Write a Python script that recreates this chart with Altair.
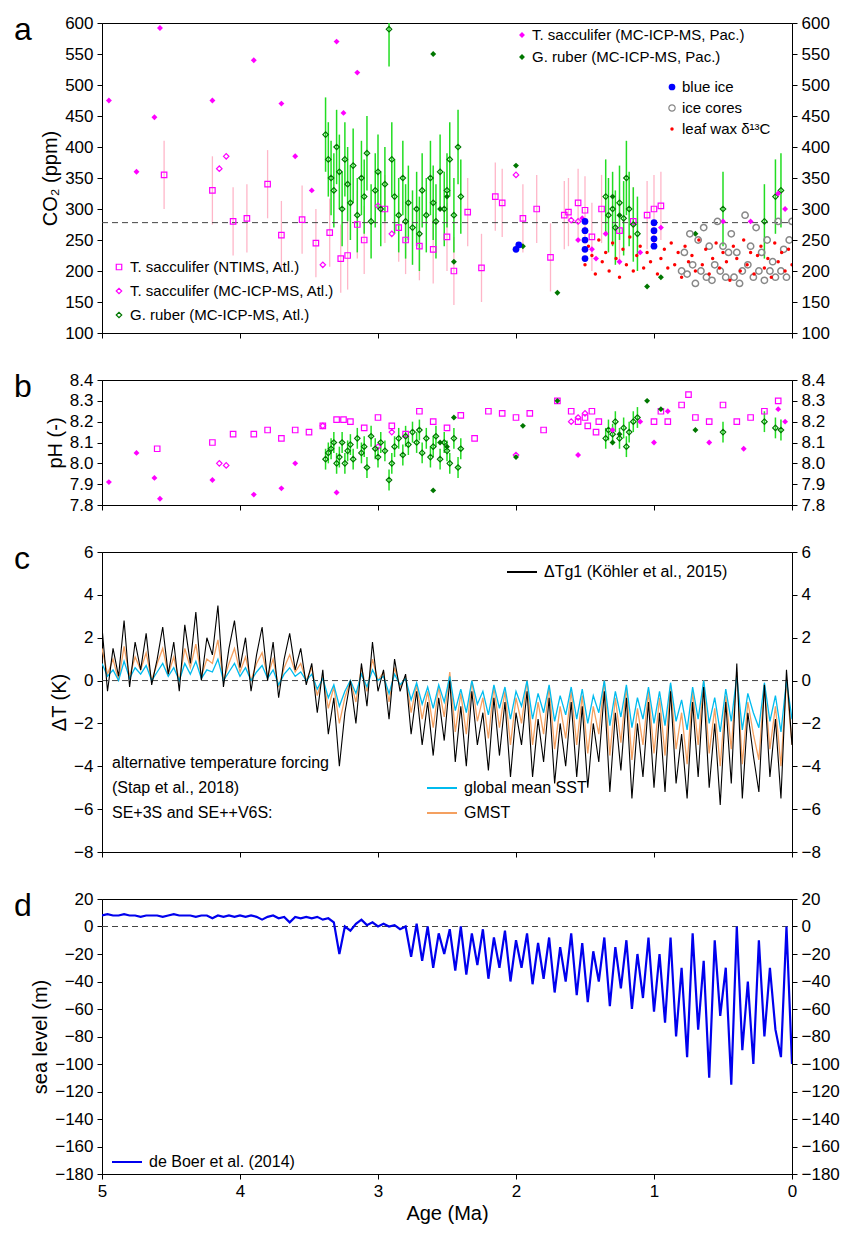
import altair as alt
import pandas as pd

FONT = "Liberation Sans"
W = 690

# ---------------- data: panel a (CO2) ----------------
ntims_age = [4.55, 4.2, 4.05, 3.95, 3.8, 3.7, 3.55, 3.45, 3.35, 3.27, 3.22, 3.15, 3.1, 2.95, 2.85, 2.8, 2.7, 2.6,
             2.5, 2.45, 2.35, 2.25, 2.15, 2.1, 1.95, 1.85, 1.75, 1.65, 1.62, 1.55, 1.5, 1.45, 1.38, 1.25, 1.15,
             1.05, 1.0, 0.95]
ntims_co2 = [355, 330, 280, 285, 340, 258, 283, 245, 262, 220, 225, 275, 250, 300, 270, 250, 240, 235,
             255, 200, 295, 205, 320, 310, 285, 300, 222, 290, 295, 310, 298, 255, 300, 265, 280,
             290, 300, 305]
atl_mc_age = [4.15, 4.1, 3.4, 3.0, 2.9, 2.0, 1.6, 1.55, 1.5]
atl_mc_co2 = [365, 385, 210, 305, 260, 355, 282, 280, 265]
pac_ts_age = [4.95, 4.75, 4.62, 4.58, 4.2, 3.9, 3.7, 3.6, 3.48, 3.3, 3.25, 3.15, 1.55, 1.52, 1.45, 1.42, 1.35,
              1.25, 1.1, 1.0, 0.95, 0.5, 0.3, 0.1, 0.05]
pac_ts_co2 = [475, 360, 448, 592, 475, 540, 470, 385, 330, 570, 455, 520, 250, 285, 235, 220, 260,
              215, 230, 250, 270, 280, 280, 325, 300]
gr_atl_age = [3.38, 3.36, 3.34, 3.32, 3.3, 3.28, 3.26, 3.24, 3.22, 3.2, 3.18, 3.15, 3.12, 3.1, 3.08, 3.05, 3.02,
              3.0, 2.98, 2.95, 2.92, 2.9, 2.88, 2.85, 2.82, 2.8, 2.78, 2.75, 2.72, 2.7, 2.68, 2.65, 2.62, 2.6,
              2.58, 2.55, 2.52, 2.5, 2.48, 2.45, 2.42, 2.4, 1.35, 1.33, 1.3, 1.28, 1.25, 1.22, 1.2, 1.18, 1.15,
              1.12, 0.5, 0.2, 0.12, 0.08]
gr_atl_co2 = [420, 380, 350, 330, 400, 360, 300, 380, 340, 310, 370, 290, 350, 320, 390, 280, 330,
              360, 300, 340, 590, 380, 320, 290, 350, 280, 310, 270, 300, 260, 330, 290, 350, 310,
              280, 360, 300, 330, 380, 290, 400, 320, 320, 290, 300, 270, 310, 285, 350, 300, 275,
              260, 300, 280, 320, 330]
gr_atl_ph = [8.02, 8.05, 8.07, 8.1, 8.0, 8.03, 8.1, 8.0, 8.06, 8.09, 8.02, 8.12, 8.05, 8.08, 7.98, 8.13, 8.07,
             8.03, 8.1, 8.06, 7.92, 8.0, 8.08, 8.12, 8.04, 8.13, 8.09, 8.15, 8.1, 8.16, 8.05, 8.12, 8.03, 8.08,
             8.13, 8.02, 8.1, 8.06, 8.0, 8.12, 7.98, 8.07, 8.12, 8.16, 8.14, 8.2, 8.12, 8.17, 8.08, 8.15, 8.2,
             8.22, 8.15, 8.2, 8.17, 8.16]
gr_pac_age = [2.6, 2.55, 2.5, 2.45, 2.0, 1.95, 1.7, 1.3, 1.25, 1.05, 0.95, 0.7]
gr_pac_co2 = [550, 300, 320, 215, 370, 240, 165, 320, 290, 175, 190, 260]
gr_pac_ph = [7.87, 8.1, 8.08, 8.22, 8.03, 8.18, 8.3, 8.1, 8.14, 8.3, 8.26, 8.16]
blue_age = [2.0, 1.98, 1.5, 1.5, 1.5, 1.5, 1.5, 1.0, 1.0, 1.0, 1.0]
blue_co2 = [235, 242, 220, 235, 250, 265, 280, 240, 252, 265, 278]
ice_co2 = [200, 230, 195, 260, 210, 180, 250, 200, 270, 190, 240, 185, 210, 280, 200, 240, 190, 230, 260, 190,
           230, 180, 200, 290, 210, 240, 190, 270, 200, 230, 185, 250, 200, 215, 190, 280, 200, 235, 190, 250, 280]
wax_co2 = [210, 240, 225, 195, 250, 215, 230, 200, 245, 220, 190, 235, 210, 255, 200, 225, 240, 205, 230, 215,
           250, 195, 220, 235, 205, 245, 210, 230, 190, 240, 215, 225, 200, 250, 210, 235, 195, 220, 245, 205,
           230, 215, 185, 240, 220, 200, 250, 210, 230, 195, 225, 240, 205, 220, 190, 245, 215, 230, 200, 235, 210]

# ---------------- data: panel b (pH) ----------------
ntims_ph_age = [4.6, 4.2, 4.05, 3.9, 3.8, 3.7, 3.6, 3.5, 3.4, 3.3, 3.25, 3.2, 3.1, 3.0, 2.9, 2.8, 2.7, 2.6, 2.5,
                2.4, 2.3, 2.2, 2.1, 2.0, 1.9, 1.8, 1.7, 1.6, 1.55, 1.5, 1.48, 1.45, 1.42, 1.4, 1.0, 0.95, 0.9,
                0.8, 0.75, 0.7, 0.6, 0.5, 0.4, 0.3, 0.2, 0.1]
ntims_ph = [8.07, 8.1, 8.14, 8.14, 8.16, 8.12, 8.16, 8.15, 8.18, 8.21, 8.21, 8.2, 8.17, 8.22, 8.18, 8.14, 8.25,
            8.2, 8.17, 8.23, 8.12, 8.25, 8.24, 8.22, 8.24, 8.16, 8.3, 8.25, 8.2, 8.22, 8.18, 8.25, 8.15, 8.2,
            8.2, 8.25, 8.2, 8.28, 8.33, 8.22, 8.2, 8.28, 8.2, 8.22, 8.25, 8.3]
pac_ph_age = [4.95, 4.75, 4.62, 4.58, 4.2, 3.9, 3.7, 3.6, 3.3, 1.55, 1.3, 1.1, 1.0, 0.9, 0.6, 0.35, 0.1, 0.05]
pac_ph = [7.91, 8.05, 7.93, 7.83, 7.92, 7.85, 7.88, 8.0, 7.86, 8.04, 8.16, 8.2, 8.1, 8.25, 8.1, 8.07, 8.26, 8.2]
atl_mc_ph = [8.0, 7.99, 8.18, 8.08, 8.15, 8.04, 8.2, 8.22, 8.24]

# ---------------- data: panels c, d (time series, 0.04 Ma steps from 5 to 0) ----------------
ages = [round(5 - 0.04 * i, 2) for i in range(126)]
dT_kohler = [2.5, -0.5, 1.5, 0.2, 2.8, -0.3, 1.8, 0.5, 2.2, -0.2, 1.0, 2.5, 0.3, 1.8, -0.5, 2.6, 0.8, 3.2, 0.0, 2.0,
             1.2, 3.5, -0.3, 1.5, 2.8, 0.6,
             2.0, -0.5, 1.2, 2.5, 0.0, 1.8, -0.8, 1.0, 2.2, 0.5, 1.5, -0.2, 0.8, -1.5, 0.5, -2.5, -0.8, -4.0, -1.5,
             0.0, -2.0, 0.8, -1.2, 1.8, -0.5,
             0.5, -1.8, 1.0, -0.5, 0.3, -2.5, -0.5, -3.0, -1.0, -3.5, -0.8, -2.8, 0.0, -3.8, -1.2, -4.0, -0.5, -3.0,
             -1.5, -4.2, -0.8, -3.5, -1.0, -4.5, -1.5,
             -3.0, -0.5, -4.5, -1.8, -3.8, -0.8, -4.8, -2.0, -4.0, -1.0, -4.5, -1.2, -5.0, -2.0, -3.8, -0.5, -5.2,
             -1.5, -4.2, -0.8, -5.5, -2.0, -4.5, -1.0, -5.0,
             -1.5, -5.2, -0.5, -4.8, -2.5, -5.5, -1.0, -4.5, -0.3, -5.0, -2.0, -5.8, -1.0, -4.8, 0.8, -5.5, -1.5,
             -3.5, -5.2, -0.2, -4.5, -1.8, -5.5, 0.5, -3.0]
dT_sst = [0.8, 0.2, 0.5, 0.0, 0.9, 0.1, 0.6, 0.3, 0.7, 0.0, 0.4, 0.8, 0.2, 0.6, 0.0, 0.8, 0.3, 0.9, 0.1, 0.5, 0.4,
          1.0, 0.0, 0.4, 0.8, 0.2,
          0.6, 0.0, 0.4, 0.7, 0.1, 0.5, -0.2, 0.3, 0.6, 0.2, 0.4, 0.0, 0.3, -0.4, 0.1, -0.8, -0.2, -1.2, -0.5, 0.0,
          -0.6, 0.3, -0.3, 0.5, 0.0,
          0.2, -0.6, 0.3, -0.2, 0.1, -0.9, -0.1, -1.1, -0.3, -1.3, -0.2, -1.0, 0.2, -1.4, -0.4, -1.5, 0.0, -1.1,
          -0.5, -1.6, -0.2, -1.3, -0.3, -1.8, -0.5,
          -1.2, 0.0, -1.8, -0.6, -1.5, -0.2, -1.9, -0.7, -1.6, -0.3, -1.8, -0.4, -2.0, -0.7, -1.5, 0.0, -2.1, -0.5,
          -1.7, -0.2, -2.2, -0.8, -1.8, -0.3, -2.0,
          -0.5, -2.1, -0.1, -1.9, -0.9, -2.3, -0.3, -1.8, 0.0, -2.0, -0.8, -2.4, -0.4, -1.9, 0.2, -2.3, -0.6, -1.5,
          -2.2, -0.1, -1.9, -0.7, -2.4, 0.0, -1.8]
dT_gmst = [1.5, 0.3, 1.0, 0.0, 1.6, 0.2, 1.1, 0.5, 1.3, 0.0, 0.8, 1.5, 0.3, 1.1, 0.0, 1.5, 0.6, 1.7, 0.2, 1.0, 0.8,
           1.9, 0.0, 0.8, 1.5, 0.4,
           1.1, 0.0, 0.8, 1.3, 0.2, 1.0, -0.3, 0.6, 1.2, 0.4, 0.8, 0.0, 0.6, -0.7, 0.2, -1.3, -0.3, -2.0, -0.8, 0.0,
           -1.0, 0.6, -0.5, 1.0, 0.0,
           0.4, -1.0, 0.6, -0.3, 0.2, -1.5, -0.2, -1.8, -0.5, -2.2, -0.3, -1.7, 0.4, -2.4, -0.6, -2.5, 0.0, -1.9,
           -0.8, -2.7, -0.3, -2.2, -0.5, -3.0, -0.8,
           -2.0, 0.0, -3.0, -1.0, -2.5, -0.3, -3.2, -1.2, -2.7, -0.5, -3.0, -0.7, -3.4, -1.2, -2.5, 0.0, -3.5, -0.8,
           -2.9, -0.3, -3.7, -1.3, -3.0, -0.5, -3.4,
           -0.8, -3.5, -0.2, -3.2, -1.5, -3.9, -0.5, -3.0, 0.0, -3.4, -1.3, -4.0, -0.7, -3.2, 0.4, -3.9, -1.0, -2.5,
           -3.7, -0.2, -3.2, -1.2, -4.0, 0.0, -3.0]
sea_level = [8, 9, 8, 8, 9, 8, 8, 7, 8, 8, 8, 7, 8, 9, 8, 8, 8, 7, 8, 8, 6, 8, 7, 8, 7, 8,
             7, 8, 7, 5, 7, 8, 6, 7, 3, 7, 6, 7, 6, 7, 5, 6, 3, -20, 0, -3, 2, 5, 1, 3, 0,
             2, 0, 1, -2, 0, -22, 2, -25, 0, -30, -5, -20, -2, -32, 0, -35, -5, -28, -2, -38, -8, -30, -3, -40, -10,
             -30, -5, -42, -12, -38, -8, -48, -15, -40, -5, -50, -12, -55, -18, -40, -8, -58, -15, -45, -10, -60,
             -20, -52, -8, -62,
             -20, -70, -8, -80, -30, -95, -5, -75, -25, -110, -10, -65, -30, -115, 0, -90, -40, -100, -10, -80,
             -30, -75, -95, 0, -100]

# ---------------- helpers ----------------
def df(a, v, err=0):
    return pd.DataFrame({"age": a, "v": v, "lo": [x - err for x in v], "hi": [x + err for x in v]})


def X(show):
    if show:
        ax = alt.Axis(values=[0, 1, 2, 3, 4, 5], title="Age (Ma)", labelOverlap=False, labelBound=False,
                      labelFlush=False)
    else:
        ax = alt.Axis(values=[0, 1, 2, 3, 4, 5], labels=False, title=None)
    return alt.X("age:Q", scale=alt.Scale(domain=[0, 5], reverse=True), axis=ax)


def panel(layers, domain, ticks, ytitle, letter, height, show_x=False, fmt=None):
    sc = alt.Scale(domain=domain, nice=False, zero=False)
    kw = {"format": fmt} if fmt else {}
    axl = alt.Axis(values=ticks, title=ytitle, orient="left", **kw)
    built = []
    for i, (d, mk, is_err) in enumerate(layers):
        f = "lo:Q" if is_err else "v:Q"
        enc = dict(x=X(show_x), y=alt.Y(f, scale=sc, axis=axl if i == 0 else None))
        if is_err:
            enc["y2"] = alt.Y2("hi:Q")
        built.append(mk(alt.Chart(d)).encode(**enc))
    right = alt.Chart(df([0], [domain[0]])).mark_point(opacity=0).encode(
        x=X(show_x), y=alt.Y("v:Q", scale=sc, axis=alt.Axis(values=ticks, title=None, orient="right", **kw)))
    lab = alt.Chart(pd.DataFrame({"t": [letter]})).mark_text(
        fontSize=32, font=FONT, align="left", baseline="top", clip=False).encode(
        text="t:N", x=alt.value(-88), y=alt.value(-8))
    return alt.layer(*built, right, lab).resolve_scale(y="independent").properties(width=W, height=height)


def rule(color, w=1.3):
    return lambda c: c.mark_rule(color=color, strokeWidth=w, clip=True)


def pts(shape, color, filled, size=30, sw=1.2):
    return lambda c: c.mark_point(shape=shape, color=color, filled=filled, size=size, strokeWidth=sw,
                                  opacity=1, clip=True)


def hline(val):
    return (df([0, 5], [val, val]), lambda c: c.mark_line(color="#444", strokeDash=[6, 4], strokeWidth=1), False)


def leg_text(rows, size=16):
    return alt.Chart(pd.DataFrame(rows, columns=["px", "py", "t"])).mark_text(
        align="left", baseline="middle", fontSize=size, font=FONT).encode(
        x=alt.X("px:Q", scale=None), y=alt.Y("py:Q", scale=None), text="t:N")


def leg_sym(px, py, shape, color, filled, size=30):
    return alt.Chart(pd.DataFrame({"px": [px], "py": [py]})).mark_point(
        shape=shape, color=color, filled=filled, size=size, opacity=1, strokeWidth=1.2).encode(
        x=alt.X("px:Q", scale=None), y=alt.Y("py:Q", scale=None))


PINK, MAG, LIME, DG = "#ffb6c8", "#ff00ff", "#22dd22", "#007700"
HA, HB, HC, HD = 310, 125, 300, 275

# ---------------- panel a ----------------
pa_layers = [
    (df(ntims_age, ntims_co2, 55), rule(PINK), True),
    (df(gr_atl_age, gr_atl_co2, 60), rule(LIME, 1.5), True),
    hline(278),
    (df(ntims_age, ntims_co2), pts("square", MAG, False, 30), False),
    (df(atl_mc_age, atl_mc_co2), pts("diamond", MAG, False, 30), False),
    (df(gr_atl_age, gr_atl_co2), pts("diamond", DG, False, 30), False),
    (df(pac_ts_age, pac_ts_co2), pts("diamond", MAG, True, 35), False),
    (df(gr_pac_age, gr_pac_co2), pts("diamond", DG, True, 35), False),
    (df([round(0.8 - 0.02 * i, 2) for i in range(len(ice_co2))], ice_co2), pts("circle", "#888", False, 40, 1.5), False),
    (df([round(1.5 - 0.025 * i, 3) for i in range(len(wax_co2))], wax_co2), pts("circle", "red", True, 12), False),
    (df(blue_age, blue_co2), pts("circle", "blue", True, 45), False),
]
pa = panel(pa_layers, [100, 600], list(range(100, 601, 50)), "CO₂ (ppm)", "a", HA)
pa = alt.layer(
    pa,
    leg_sym(420, 12, "diamond", MAG, True, 35), leg_sym(420, 34, "diamond", DG, True, 35),
    leg_sym(570, 64, "circle", "blue", True, 45), leg_sym(570, 85, "circle", "#888", False, 40),
    leg_sym(570, 106, "circle", "red", True, 12),
    leg_sym(17, 244, "square", MAG, False, 30), leg_sym(17, 268, "diamond", MAG, False, 30),
    leg_sym(17, 292, "diamond", DG, False, 30),
    leg_text([(430, 12, "T. sacculifer (MC-ICP-MS, Pac.)"), (430, 34, "G. ruber (MC-ICP-MS, Pac.)"),
              (580, 64, "blue ice"), (580, 85, "ice cores"), (580, 106, "leaf wax δ¹³C"),
              (28, 244, "T. sacculifer (NTIMS, Atl.)"), (28, 268, "T. sacculifer (MC-ICP-MS, Atl.)"),
              (28, 292, "G. ruber (MC-ICP-MS, Atl.)")], size=15),
)

# ---------------- panel b ----------------
pb_layers = [
    (df(gr_atl_age, gr_atl_ph, 0.05), rule(LIME, 1.5), True),
    (df(ntims_ph_age, ntims_ph), pts("square", MAG, False, 30), False),
    (df(atl_mc_age, atl_mc_ph), pts("diamond", MAG, False, 30), False),
    (df(gr_atl_age, gr_atl_ph), pts("diamond", DG, False, 30), False),
    (df(pac_ph_age, pac_ph), pts("diamond", MAG, True, 35), False),
    (df(gr_pac_age, gr_pac_ph), pts("diamond", DG, True, 35), False),
]
pb = panel(pb_layers, [7.8, 8.4], [7.8, 7.9, 8.0, 8.1, 8.2, 8.3, 8.4], "pH (-)", "b", HB, fmt=".1f")

# ---------------- panel c ----------------
def line(vals, color, w=1.3):
    return (df(ages, vals), lambda c: c.mark_line(color=color, strokeWidth=w, clip=True), False)


pc = panel([hline(0), line(dT_gmst, "#f4a060"), line(dT_sst, "#00bbee"), line(dT_kohler, "black", 1.1)],
           [-8, 6], list(range(-8, 7, 2)), "ΔT (K)", "c", HC)
legc_lines = pd.DataFrame({"x1": [405, 325, 325], "x2": [435, 355, 355], "py": [20, 236, 261],
                           "c": ["black", "#00bbee", "#f4a060"]})
pc = alt.layer(
    pc,
    alt.Chart(legc_lines).mark_rule(strokeWidth=2).encode(
        x=alt.X("x1:Q", scale=None), x2="x2:Q", y=alt.Y("py:Q", scale=None), color=alt.Color("c:N", scale=None)),
    leg_text([(442, 20, "ΔTg1 (Köhler et al., 2015)"), (362, 236, "global mean SST"), (362, 261, "GMST"),
              (10, 211, "alternative temperature forcing"), (10, 236, "(Stap et al., 2018)"),
              (10, 261, "SE+3S and SE++V6S:")]),
)

# ---------------- panel d ----------------
pd_ = panel([hline(0), line(sea_level, "#0000ee", 2.2)], [-180, 20], list(range(-180, 21, 20)),
            "sea level (m)", "d", HD, show_x=True)
legd = pd.DataFrame({"x1": [10], "x2": [40], "py": [263]})
pd_ = alt.layer(
    pd_,
    alt.Chart(legd).mark_rule(strokeWidth=2, color="#0000ee").encode(
        x=alt.X("x1:Q", scale=None), x2="x2:Q", y=alt.Y("py:Q", scale=None)),
    leg_text([(47, 263, "de Boer et al. (2014)")]),
)

chart = alt.vconcat(pa, pb, pc, pd_, spacing=28).configure_axis(
    grid=False, labelFont=FONT, titleFont=FONT, labelFontSize=17, titleFontSize=20, titleFontWeight="normal",
    labelColor="black", titleColor="black", domainColor="black", tickColor="black", labelPadding=4,
).configure_view(stroke="black", strokeWidth=1).configure_text(font=FONT)

chart.save("out.html", embed_options={"renderer": "svg", "actions": False})
